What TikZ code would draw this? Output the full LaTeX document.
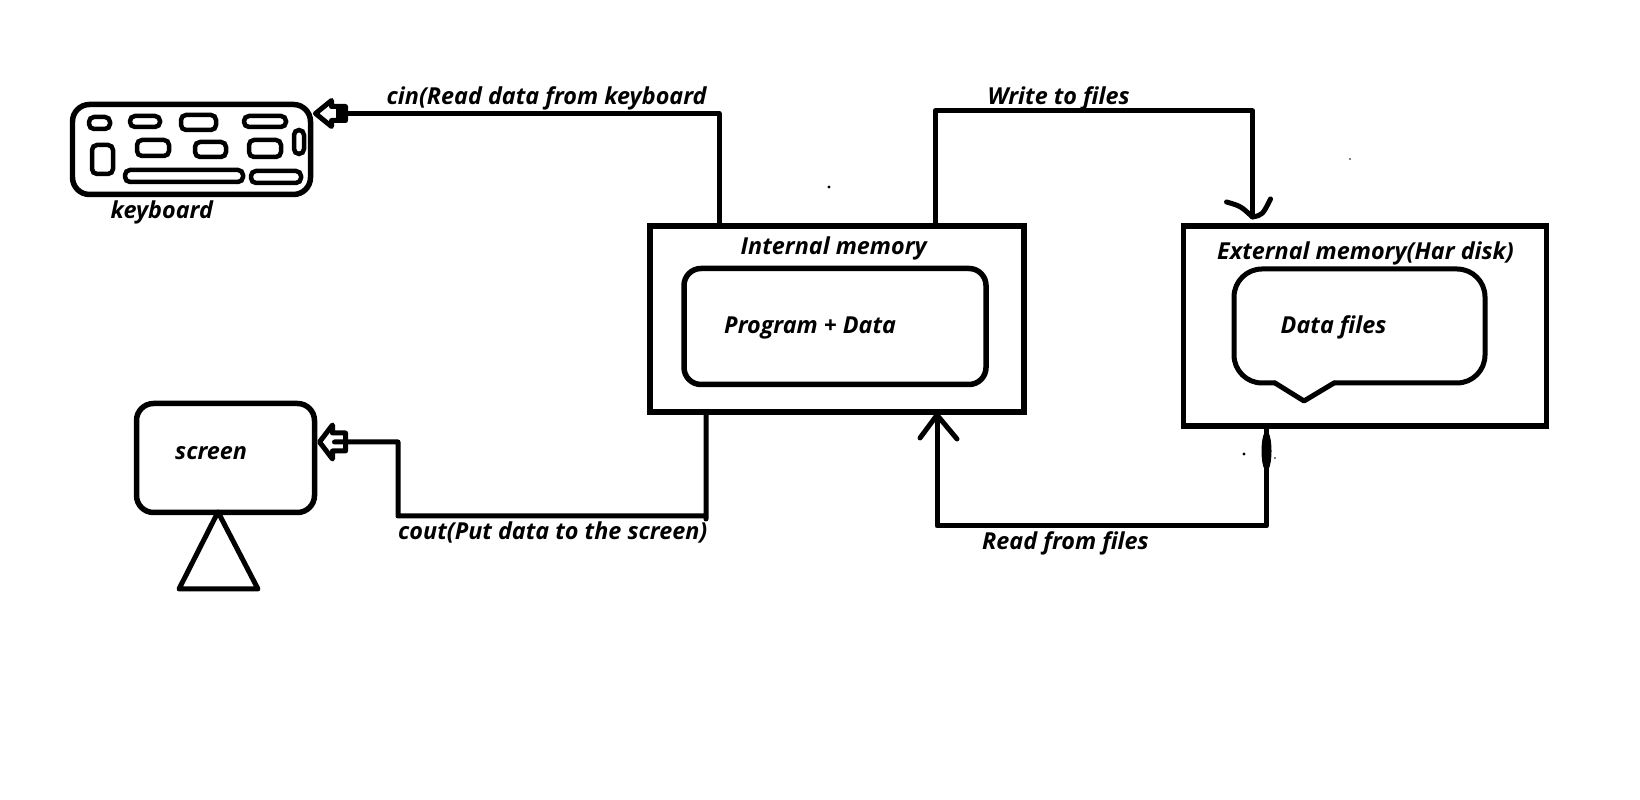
\documentclass[tikz,border=0pt]{standalone}
\usepackage{fontspec}
\setmainfont{Open Sans}
\usetikzlibrary{calc}
\tikzset{
    wire/.style={line width=0.05cm, line join=round, line cap=round},
    box/.style={draw=black, line width=0.055cm, inner sep=0pt, outer sep=0pt},
    roundbox/.style={box, rounded corners=0.17cm},
    keybox/.style={draw=black, line width=0.045cm, inner sep=0pt, outer sep=0pt, rounded corners=0.05cm},
    label/.style={anchor=base west, inner sep=0pt, font=\fontsize{6.65pt}{8pt}\selectfont\bfseries\itshape}
}
\begin{document}
\begin{tikzpicture}
        \useasboundingbox (0,0) rectangle (16.4,8);

        %% Keyboard
        \node (keyboard) [roundbox, minimum width=2.38cm, minimum height=0.90cm] at (1.915,6.505) {};
        \foreach \cx/\cy/\w/\h [count=\i] in {0.995/6.77/0.21/0.12, 1.45/6.785/0.30/0.11, 1.985/6.775/0.35/0.15, 2.65/6.785/0.42/0.11, 2.99/6.58/0.10/0.24, 1.025/6.405/0.21/0.29, 1.53/6.52/0.32/0.16, 2.105/6.505/0.31/0.15, 2.65/6.515/0.32/0.17, 1.84/6.24/1.18/0.12, 2.76/6.23/0.50/0.12}
            \node (key\i) [keybox, minimum width=\w cm, minimum height=\h cm] at (\cx,\cy) {};
        \node (keyboardText) [label] at (1.10,5.81) {keyboard};

        %% Screen
        \node (screen) [roundbox, minimum width=1.78cm, minimum height=1.09cm] at (2.255,3.42) {};
        \node (screenText) [label] at (1.745,3.40) {screen};
        \draw [wire] (2.18,2.88) -- (1.79,2.11) -- (2.58,2.11) -- cycle;

        %% Internal memory
        \node (internal) [box, minimum width=3.74cm, minimum height=1.86cm] at (8.37,4.81) {};
        \node (internalText) [label] at (7.40,5.45) {Internal memory};
        \node (program) [roundbox, minimum width=3.02cm, minimum height=1.16cm] at (8.35,4.735) {};
        \node (programText) [label] at (7.235,4.66) {Program + Data};

        %% External memory
        \node (external) [box, minimum width=3.63cm, minimum height=2.0cm] at (13.65,4.74) {};
        \node (externalText) [label] at (12.165,5.40) {External memory(Har disk)};
        \draw [wire, rounded corners=0.28cm] (13.34,4.17) -- (14.85,4.17) -- (14.85,5.31) -- (12.34,5.31) -- (12.34,4.17) -- (12.75,4.17);
        \draw [wire] (12.75,4.17) -- (13.04,3.99) -- (13.34,4.17);
        \node (dataFiles) [label] at (12.80,4.66) {Data files};

        %% cin
        \coordinate (cinTip) at ($(keyboard.north east) + (0.05,-0.09)$);
        \draw [wire] ($(internal.north west) + (0.69,0)$) |- ($(cinTip) + (0.17,0)$);
        \draw [wire, fill=white] (cinTip) -- ++(0.16,0.13) -- ++(0,-0.06) -- ++(0.14,0) -- ++(0,-0.14) -- ++(-0.14,0) -- ++(0,-0.06) -- cycle;
        \draw [line width=0.09cm] ($(cinTip) + (0.20,0)$) -- ++(0.12,0);
        \node (cinText) [label] at (3.86,6.95) {cin(Read data from keyboard};

        %% cout
        \coordinate (coutTip) at ($(screen.east) + (0.05,0.16)$);
        \draw [wire, fill=white] (coutTip) -- ++(0.13,0.17) -- ++(0,-0.08) -- ++(0.13,0) -- ++(0,-0.18) -- ++(-0.13,0) -- ++(0,-0.08) -- cycle;
        \draw [wire] ($(internal.south west) + (0.56,0)$) -- ++(0,-1.07) -- ++(0,0.03) -| (3.98,3.58) -- ($(coutTip) + (0.15,0)$);
        \node (coutText) [label] at (3.975,2.60) {cout(Put data to the screen)};

        %% Write to files
        \coordinate (writeTip) at ($(external.north west) + (0.69,0.09)$);
        \draw [wire] ($(internal.north west) + (2.85,0)$) |- ($(writeTip) + (0,1.06)$) -- (writeTip);
        \draw [wire] ($(writeTip) + (-0.26,0.15)$) .. controls ($(writeTip) + (-0.12,0.11)$) .. (writeTip) .. controls ($(writeTip) + (0.10,0.02)$) .. ($(writeTip) + (0.18,0.18)$);
        \node (writeText) [label] at (9.87,6.95) {Write to files};

        %% Read from files
        \coordinate (readTip) at ($(internal.south west) + (2.87,-0.03)$);
        \coordinate (readStart) at ($(external.south west) + (0.83,0)$);
        \draw [wire] (readStart) |- ($(readTip) + (0,-1.11)$) -- (readTip);
        \draw [wire] ($(readTip) + (-0.17,-0.23)$) -- (readTip) -- ($(readTip) + (0.20,-0.24)$);
        \fill ($(readStart) + (0,-0.25)$) ellipse (0.05 and 0.2);
        \node (readText) [label] at (9.815,2.50) {Read from files};

        %% Specks
        \fill (8.29,6.13) circle (0.017);
        \fill (13.50,6.41) circle (0.008);
        \fill (12.44,3.46) circle (0.017);
        \fill (12.75,3.42) circle (0.008);

    \end{tikzpicture}
\end{document}
